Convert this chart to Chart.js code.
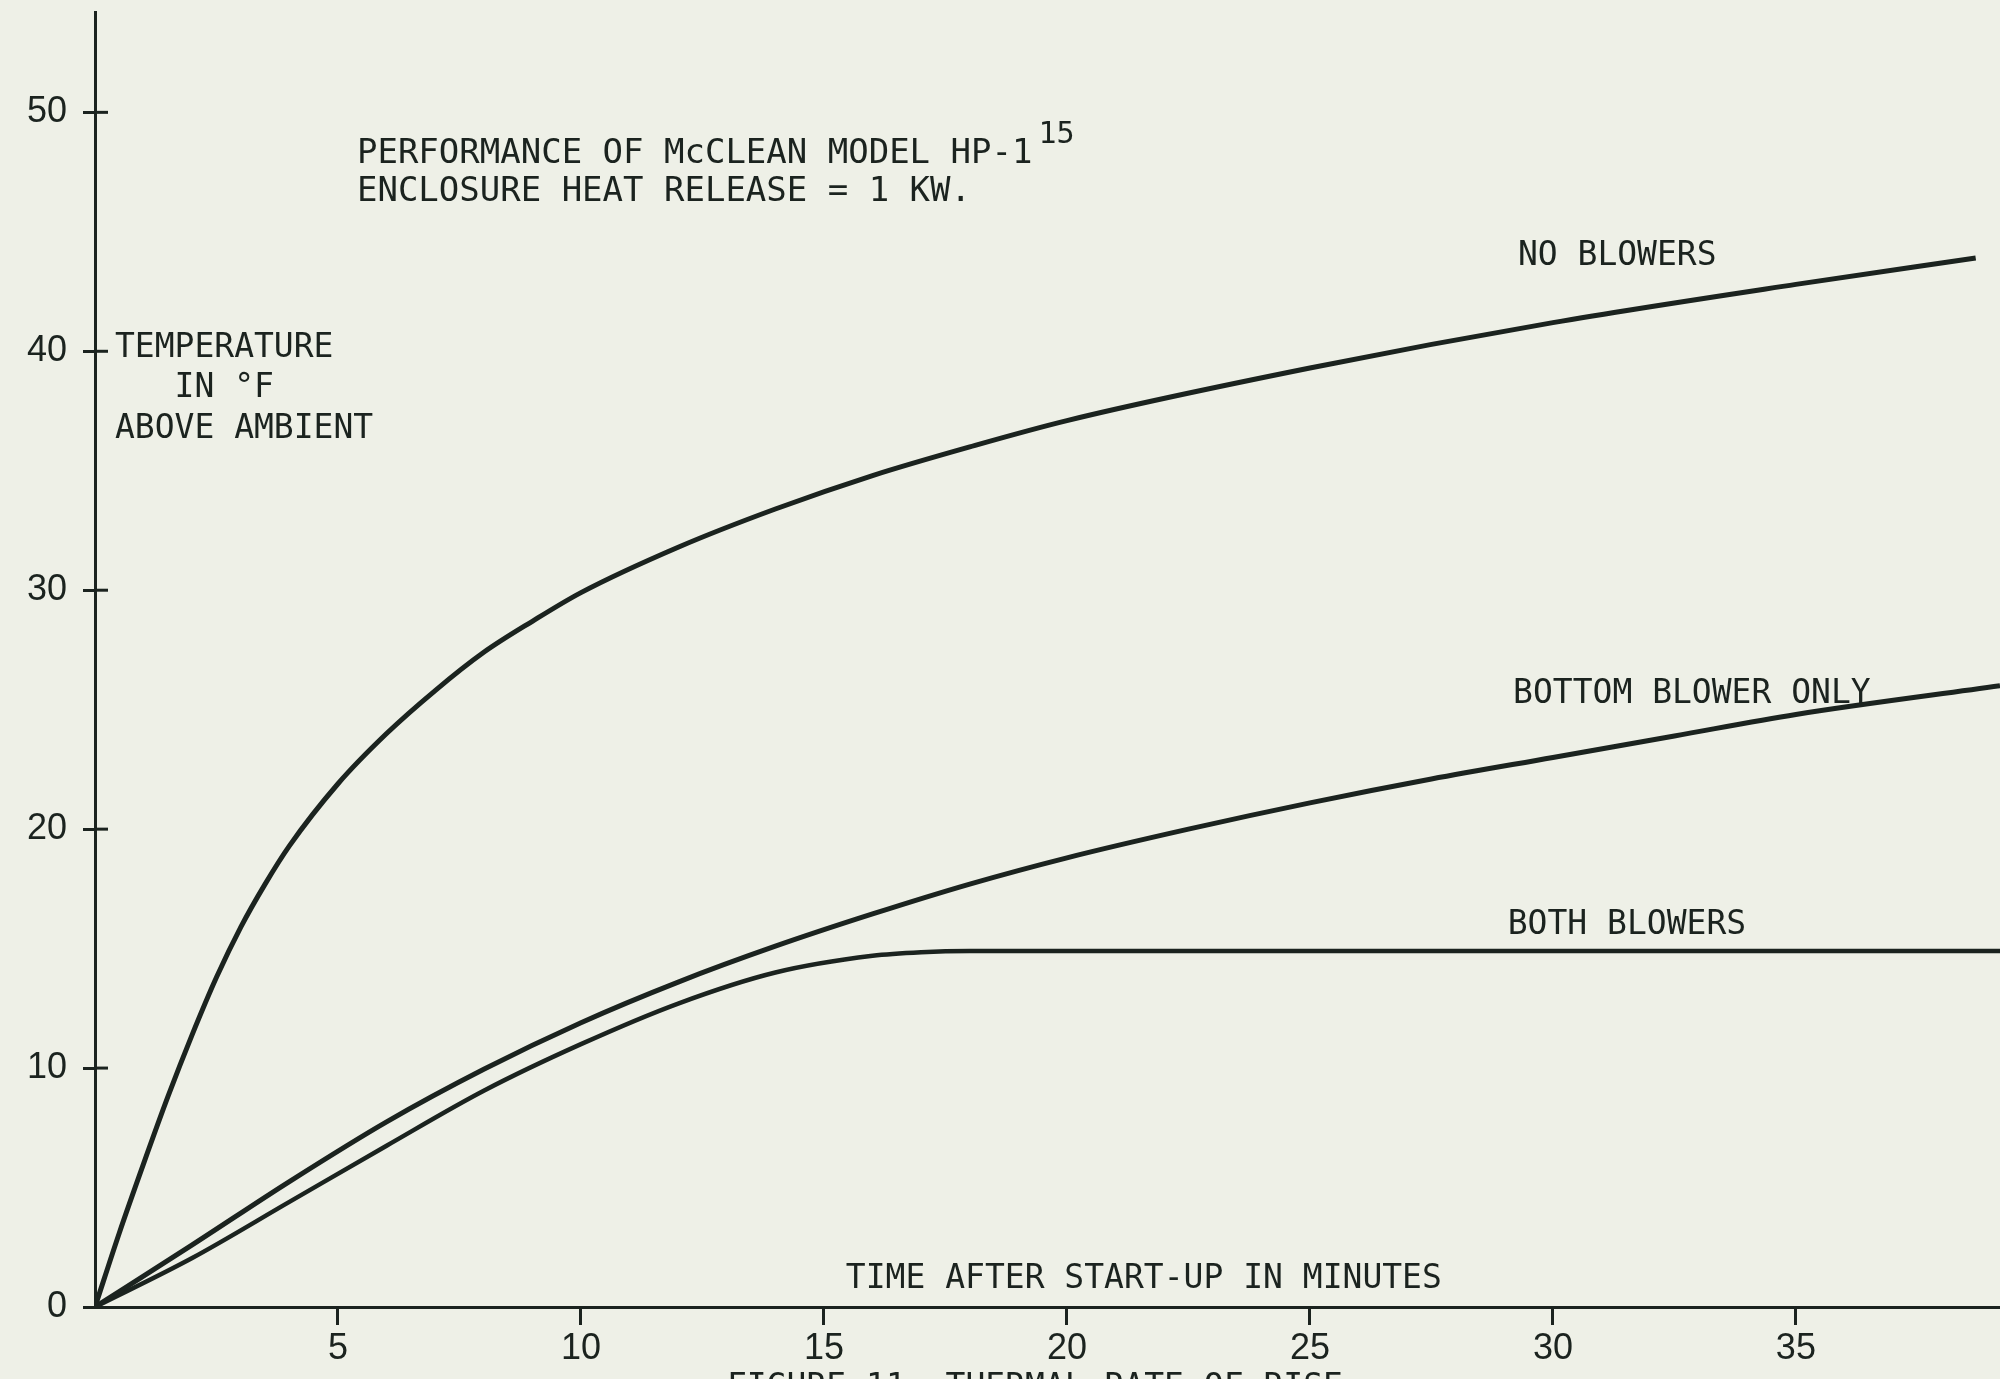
<!DOCTYPE html>
<html>
<head>
<meta charset="utf-8">
<title>Performance of McClean Model HP-1</title>
<script src="https://cdn.jsdelivr.net/npm/chart.js@4/dist/chart.umd.min.js"></script>
<style>
  html, body { margin: 0; padding: 0; background: #eef0e7; }
  #wrap { width: 2000px; height: 1379px; overflow: hidden; }
  canvas { display: block; }
</style>
</head>
<body>
<div id="wrap"><canvas id="chart" width="2000" height="1379"></canvas></div>
<script>
// Time after start-up (minutes) and temperature rise (°F above ambient)
const noBlowersTime = [0, 0.5, 1, 1.5, 2, 2.5, 3, 3.5, 4, 5, 6, 7, 8, 9, 10, 12, 14, 16, 18, 20, 25, 30, 35, 38.7];
const noBlowersTemp = [0, 3.1, 6.0, 8.8, 11.4, 13.8, 15.9, 17.7, 19.3, 21.9, 24.0, 25.8, 27.4, 28.7, 29.9, 31.8, 33.4, 34.8, 36.0, 37.1, 39.3, 41.2, 42.8, 43.9];

const bottomBlowerTime = [0, 2, 4, 6, 8, 10, 12, 14, 16, 18, 20, 22.5, 25, 27.5, 30, 32.5, 35, 39.2];
const bottomBlowerTemp = [0, 2.6, 5.25, 7.75, 9.95, 11.9, 13.6, 15.1, 16.45, 17.7, 18.8, 20.0, 21.1, 22.1, 23.0, 23.9, 24.8, 26.0];

const bothBlowersTime = [0, 2, 4, 6, 8, 10, 12, 14, 16, 17, 18, 20, 25, 30, 35, 39.2];
const bothBlowersTemp = [0, 2.05, 4.4, 6.75, 9.05, 11.0, 12.7, 14.0, 14.7, 14.85, 14.9, 14.9, 14.9, 14.9, 14.9, 14.9];

const seriesNames = ['NO BLOWERS', 'BOTTOM BLOWER ONLY', 'BOTH BLOWERS'];
const xTickValues = [5, 10, 15, 20, 25, 30, 35];
const yTickValues = [0, 10, 20, 30, 40, 50];

const titleLines = ['PERFORMANCE OF McCLEAN MODEL HP-1', 'ENCLOSURE HEAT RELEASE = 1 KW.'];
const titleNote = '15';
const yTitleLines = ['TEMPERATURE', '   IN °F', 'ABOVE AMBIENT'];
const xTitle = 'TIME AFTER START-UP IN MINUTES';
const caption = 'FIGURE 11. THERMAL RATE OF RISE';

const PAPER = '#eef0e7';
const INK = '#1b231f';
const MONO = '"DejaVu Sans Mono", monospace';
const SANS = '"Liberation Sans", Arial, sans-serif';

const toPoints = (xs, ys) => xs.map((x, i) => ({ x: x, y: ys[i] }));

// Text placed in data units so it sits with the curves it names
const labels = [
  { text: seriesNames[0], x: 29.28, y: 43.6, size: 33 },
  { text: seriesNames[1], x: 29.18, y: 25.27, size: 33 },
  { text: seriesNames[2], x: 29.07, y: 15.6, size: 33 },
  { text: xTitle, x: 15.45, y: 0.8, size: 33 },
  { text: titleLines[0], x: 5.39, y: 47.87, size: 34, note: titleNote },
  { text: titleLines[1], x: 5.39, y: 46.28, size: 34 },
  { text: yTitleLines[0], x: 0.41, y: 39.75, size: 33 },
  { text: yTitleLines[1], x: 0.41, y: 38.08, size: 33 },
  { text: yTitleLines[2], x: 0.41, y: 36.36, size: 33 }
];

const paperPlugin = {
  id: 'paper',
  beforeDraw(chart) {
    const ctx = chart.ctx;
    ctx.save();
    ctx.fillStyle = PAPER;
    ctx.fillRect(0, 0, chart.width, chart.height);
    ctx.restore();
  }
};

const textPlugin = {
  id: 'figureText',
  afterDraw(chart) {
    const ctx = chart.ctx;
    const xs = chart.scales.x, ys = chart.scales.y;
    ctx.save();
    ctx.fillStyle = INK;
    ctx.strokeStyle = INK;
    ctx.textBaseline = 'alphabetic';
    ctx.textAlign = 'left';

    // right half of the y tick marks (they cross the axis)
    ctx.lineWidth = 3;
    yTickValues.forEach(v => {
      if (v === 0) return;
      const py = ys.getPixelForValue(v);
      ctx.beginPath();
      ctx.moveTo(xs.left, py);
      ctx.lineTo(xs.left + 13, py);
      ctx.stroke();
    });

    labels.forEach(l => {
      const px = xs.getPixelForValue(l.x);
      const py = ys.getPixelForValue(l.y);
      ctx.font = l.size + 'px ' + MONO;
      ctx.fillText(l.text, px, py);
      if (l.note) {
        const w = ctx.measureText(l.text).width;
        ctx.save();
        ctx.font = '30px ' + MONO;
        ctx.fillText(l.note, px + w + 6, py - 20);
        ctx.restore();
      }
    });

    // figure caption along the lower edge of the page
    ctx.font = '33px ' + MONO;
    ctx.fillText(caption, 727, 1397);
    ctx.restore();
  }
};

const noEdgePadding = scale => {
  scale.paddingTop = 0;
  scale.paddingBottom = 0;
  scale.paddingLeft = 0;
  scale.paddingRight = 0;
};

new Chart(document.getElementById('chart'), {
  type: 'scatter',
  data: {
    datasets: [
      { label: seriesNames[0], data: toPoints(noBlowersTime, noBlowersTemp), borderWidth: 5 },
      { label: seriesNames[1], data: toPoints(bottomBlowerTime, bottomBlowerTemp), borderWidth: 5 },
      { label: seriesNames[2], data: toPoints(bothBlowersTime, bothBlowersTemp), borderWidth: 4.5 }
    ].map(d => Object.assign(d, {
      showLine: true,
      borderColor: INK,
      backgroundColor: INK,
      pointRadius: 0,
      fill: false,
      cubicInterpolationMode: 'monotone'
    }))
  },
  options: {
    responsive: false,
    animation: false,
    devicePixelRatio: 1,
    layout: { padding: { top: 12, left: 0, right: 0, bottom: 0 } },
    plugins: { legend: { display: false }, tooltip: { enabled: false } },
    scales: {
      x: {
        type: 'linear',
        min: 0,
        max: 39.2,
        afterFit(scale) { scale.height = 72; noEdgePadding(scale); },
        afterBuildTicks(scale) { scale.ticks = xTickValues.map(v => ({ value: v })); },
        grid: { display: true, drawOnChartArea: false, drawTicks: true, tickLength: 18, tickWidth: 3, tickColor: INK },
        border: { display: true, color: INK, width: 3 },
        ticks: { color: INK, font: { family: SANS, size: 36 }, padding: 2, maxRotation: 0, autoSkip: false }
      },
      y: {
        type: 'linear',
        min: 0,
        max: 54.2,
        afterFit(scale) { scale.width = 95; noEdgePadding(scale); },
        afterBuildTicks(scale) { scale.ticks = yTickValues.map(v => ({ value: v })); },
        grid: { display: true, drawOnChartArea: false, drawTicks: true, tickLength: 12, tickWidth: 3, tickColor: INK },
        border: { display: true, color: INK, width: 3 },
        ticks: { color: INK, font: { family: SANS, size: 36 }, padding: 16, autoSkip: false }
      }
    }
  },
  plugins: [paperPlugin, textPlugin]
});
</script>
</body>
</html>
